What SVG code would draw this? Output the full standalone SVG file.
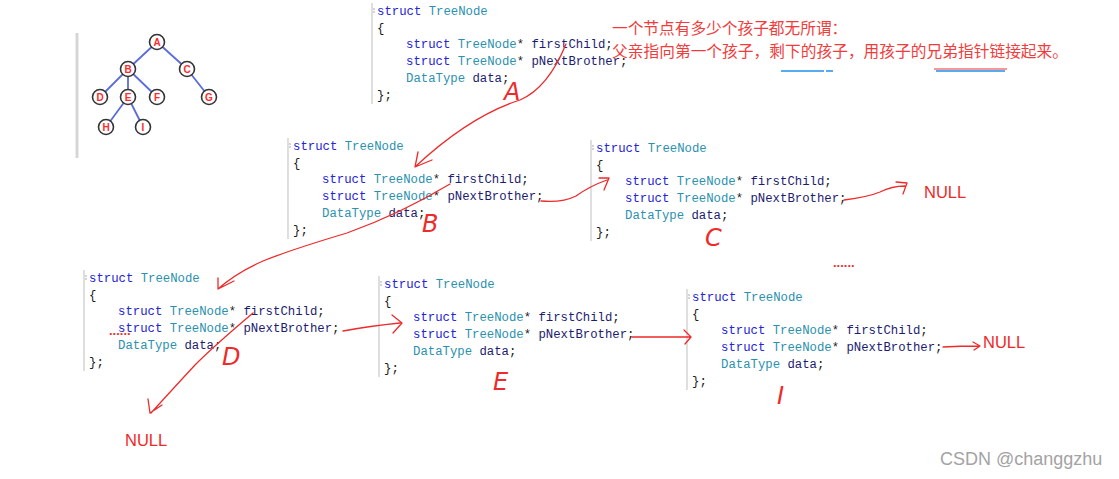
<svg xmlns="http://www.w3.org/2000/svg" width="1119" height="479" viewBox="0 0 1119 479">
<defs>
<style>
.code{font-family:"Liberation Mono","DejaVu Sans Mono",monospace;font-size:12.3px;fill:#1a1a1a}
.kw{fill:#2323d8}
.ty{fill:#2b91af}
.id{fill:#1c1c70}
.bar{stroke:#c9c9c9;stroke-width:1.2}
.hw{fill:none;stroke:#ee2a2a;stroke-width:1.3;stroke-linecap:round;stroke-linejoin:round}
.note{font-family:"Noto Sans CJK SC","Noto Sans",sans-serif;font-size:15.7px;fill:#f23c3c}
.null{font-family:"Liberation Sans",Arial,sans-serif;font-size:16.5px;fill:#f02828}
.letter{font-family:"DejaVu Sans",sans-serif;font-size:24px;font-style:italic;font-weight:200;fill:#ee2a2a}
.dots{font-family:"Liberation Sans",sans-serif;font-size:13px;font-weight:bold;fill:#f03030}
.edge{stroke:#5a6cd8;stroke-width:1.8}
.tn{fill:#fff;stroke:#333;stroke-width:1.6}
.tl{font-family:"Liberation Sans",Arial,sans-serif;font-size:10px;font-weight:bold;fill:#ff2a2a;text-anchor:middle}
</style>
<g id="codeblock">
<line class="bar" x1="-5" y1="-8" x2="-5" y2="93"/>
<line x1="-4" y1="-2" x2="-2" y2="-2" stroke="#aaa" stroke-width="1"/>
<line x1="-4" y1="1" x2="-2" y2="1" stroke="#aaa" stroke-width="1"/>
<text class="code" x="0" y="4"><tspan class="kw">struct</tspan> <tspan class="ty">TreeNode</tspan></text>
<text class="code" x="0" y="21">{</text>
<text class="code" x="29" y="37"><tspan class="kw">struct</tspan> <tspan class="ty">TreeNode</tspan>* <tspan class="id">firstChild</tspan>;</text>
<text class="code" x="29" y="54"><tspan class="kw">struct</tspan> <tspan class="ty">TreeNode</tspan>* <tspan class="id">pNextBrother</tspan>;</text>
<text class="code" x="29" y="71"><tspan class="ty">DataType</tspan> <tspan class="id">data</tspan>;</text>
<text class="code" x="0" y="88">};</text>
</g>
</defs>
<rect width="1119" height="479" fill="#fff"/>

<g id="tree">
<line x1="77" y1="33" x2="77" y2="158" stroke="#d6d6d6" stroke-width="3"/>
<g>
<line class="edge" x1="157" y1="42" x2="128" y2="69"/>
<line class="edge" x1="157" y1="42" x2="187" y2="69"/>
<line class="edge" x1="128" y1="69" x2="100" y2="97"/>
<line class="edge" x1="128" y1="69" x2="128" y2="97"/>
<line class="edge" x1="128" y1="69" x2="157" y2="97"/>
<line class="edge" x1="187" y1="69" x2="209" y2="97"/>
<line class="edge" x1="128" y1="97" x2="106" y2="127"/>
<line class="edge" x1="128" y1="97" x2="143" y2="127"/>
</g>
<g id="tA"><circle class="tn" cx="157" cy="42" r="7.5"/><text class="tl" x="157" y="45.5">A</text></g>
<g id="tB"><circle class="tn" cx="128" cy="69" r="7.5"/><text class="tl" x="128" y="72.5">B</text></g>
<g id="tC"><circle class="tn" cx="187" cy="69" r="7.5"/><text class="tl" x="187" y="72.5">C</text></g>
<g id="tD"><circle class="tn" cx="100" cy="97" r="7.5"/><text class="tl" x="100" y="100.5">D</text></g>
<g id="tE"><circle class="tn" cx="128" cy="97" r="7.5"/><text class="tl" x="128" y="100.5">E</text></g>
<g id="tF"><circle class="tn" cx="157" cy="97" r="7.5"/><text class="tl" x="157" y="100.5">F</text></g>
<g id="tG"><circle class="tn" cx="209" cy="97" r="7.5"/><text class="tl" x="209" y="100.5">G</text></g>
<g id="tH"><circle class="tn" cx="106" cy="127" r="7.5"/><text class="tl" x="106" y="130.5">H</text></g>
<g id="tI"><circle class="tn" cx="143" cy="127" r="7.5"/><text class="tl" x="143" y="130.5">I</text></g>
</g>

<g id="nodeA"><use href="#codeblock" transform="translate(377,11)"/><text class="letter" x="504" y="100">A</text></g>
<g id="nodeB"><use href="#codeblock" transform="translate(293,146)"/><text class="letter" x="422" y="232">B</text></g>
<g id="nodeC"><use href="#codeblock" transform="translate(596,148)"/><text class="letter" x="705" y="246">C</text></g>
<g id="nodeD"><use href="#codeblock" transform="translate(89,278)"/><text class="letter" x="222" y="365">D</text></g>
<g id="nodeE"><use href="#codeblock" transform="translate(384,284)"/><text class="letter" x="493" y="390">E</text></g>
<g id="nodeI"><use href="#codeblock" transform="translate(692,297)"/><text class="letter" x="777" y="404">I</text></g>

<g id="note">
<text class="note" x="612" y="34">一个节点有多少个孩子都无所谓：</text>
<text class="note" x="612" y="57" textLength="456" lengthAdjust="spacing">父亲指向第一个孩子，剩下的孩子，用孩子的兄弟指针链接起来。</text>
<line x1="781" y1="71" x2="824" y2="71" stroke="#1e90e8" stroke-width="1.5"/>
<line x1="826" y1="71" x2="833" y2="71" stroke="#1e90e8" stroke-width="1.5"/>
<line x1="934" y1="69" x2="1007" y2="69" stroke="#f03030" stroke-width="1.2"/>
<line x1="936" y1="71" x2="1005" y2="71" stroke="#1e90e8" stroke-width="1.3"/>
</g>

<g id="nulls">
<text class="null" x="924" y="198">NULL</text>
<text class="null" x="125" y="446">NULL</text>
<text class="null" x="983" y="348">NULL</text>
<text class="dots" x="833" y="267">......</text>
<text class="dots" x="109" y="335">......</text>
</g>

<g id="connectors">
<path class="hw" d="M 566 44 Q 548 88 520 100 Q 470 116 416 166 M 418 152 L 415 167 L 432 160"/>
<path class="hw" d="M 541 201 Q 562 203 576 196 Q 590 186 607 180 M 599 178 L 609 178 L 604 190"/>
<path class="hw" d="M 844 200 Q 868 197 880 192 Q 892 186 905 186 M 896 182 L 907 183 L 903 194"/>
<path class="hw" d="M 450 184 Q 400 214 347 233 Q 290 250 263 261 Q 236 273 218 289 M 218 278 L 218 289 L 234 281"/>
<path class="hw" d="M 343 331 Q 370 326 400 323 M 392 315 L 402 323 L 393 333"/>
<path class="hw" d="M 253 313 Q 215 345 195 365 Q 170 392 151 413 M 148 399 L 150 413 L 162 405"/>
<path class="hw" d="M 632 337 L 690 337 M 684 330 L 691 337 L 685 344"/>
<path class="hw" d="M 943 347 Q 960 346 979 346 M 973 342 L 980 346 L 974 350"/>
</g>

<text x="940" y="465" font-family="Liberation Sans,Arial,sans-serif" font-size="18" fill="#a3a3a3">CSDN @changgzhu</text>
</svg>
